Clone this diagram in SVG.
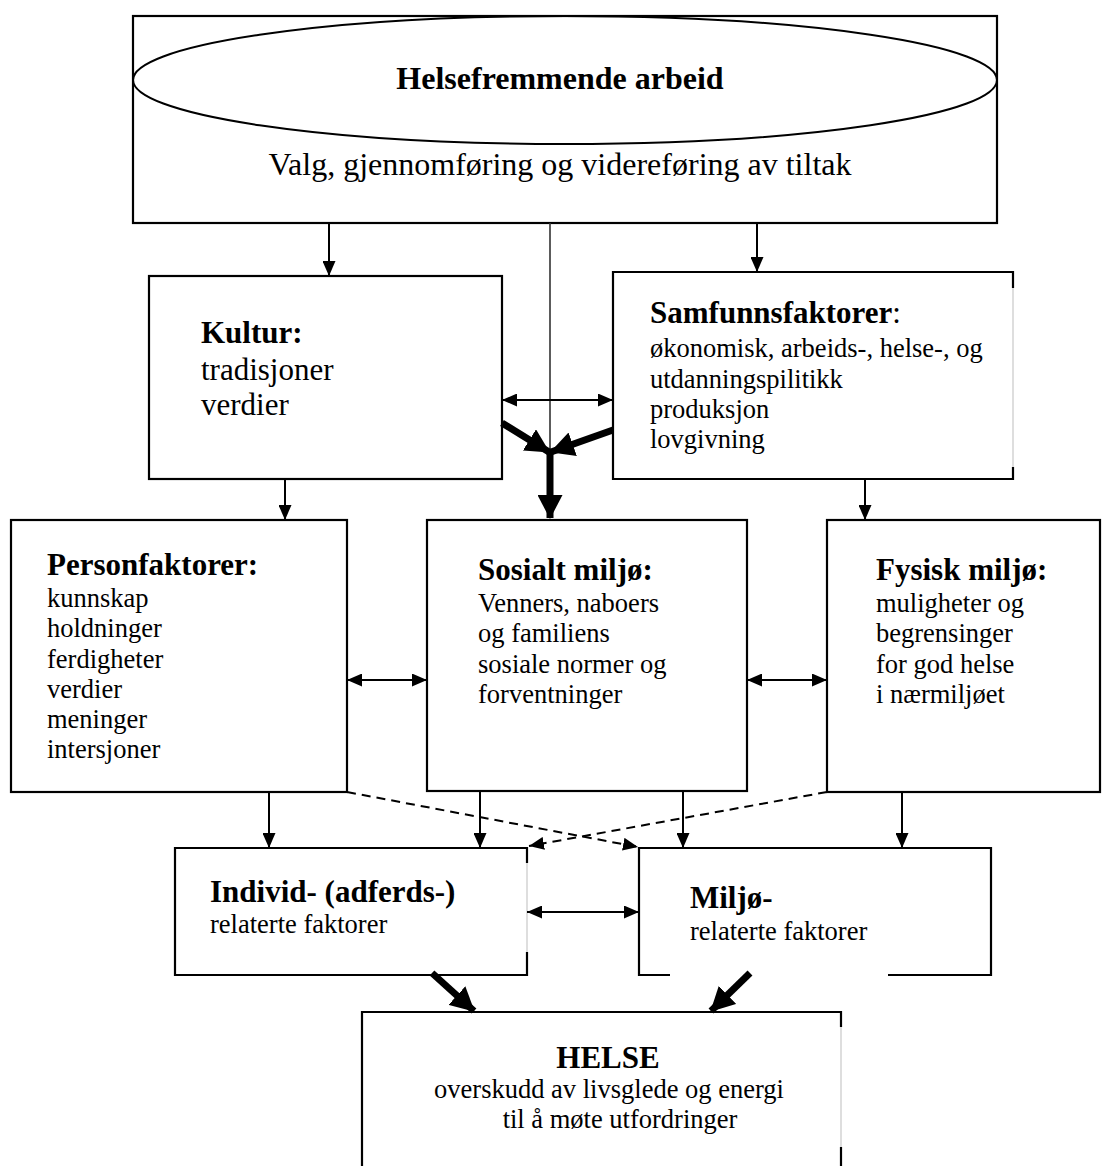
<svg xmlns="http://www.w3.org/2000/svg" width="1102" height="1166" viewBox="0 0 1102 1166">
<style>
.box{fill:none;stroke:#000;stroke-width:2.2}
.faint{fill:none;stroke:#c8c8c8;stroke-width:1.2}
.t{font-family:"Liberation Serif","Times New Roman",serif;fill:#000}
.b{font-weight:bold;font-size:31px}
.r{font-size:26.5px}
.thin{stroke:#000;stroke-width:2;fill:none;marker-end:url(#ah)}
.dbl{stroke:#000;stroke-width:2;fill:none;marker-end:url(#ah);marker-start:url(#ah)}
.dash{stroke:#000;stroke-width:2;fill:none;stroke-dasharray:9,6;marker-end:url(#ah)}
.thick{stroke:#000;stroke-width:7;fill:none;marker-end:url(#th)}
</style>
<defs>
<marker id="ah" markerUnits="userSpaceOnUse" markerWidth="15" markerHeight="13" refX="15" refY="6.5" orient="auto-start-reverse"><path d="M0,0 L15,6.5 L0,13 z" fill="#000"/></marker>
<marker id="th" markerUnits="userSpaceOnUse" markerWidth="24" markerHeight="25" refX="23" refY="12.5" orient="auto"><path d="M0,0 L24,12.5 L0,25 z" fill="#000"/></marker>
</defs>
<rect width="1102" height="1166" fill="#fff"/>

<g id="helsefremmende">
<rect class="box" x="133" y="16" width="864" height="207"/>
<ellipse cx="565" cy="80" rx="432" ry="64" fill="none" stroke="#000" stroke-width="2"/>
<text class="t" x="560" y="89" font-size="32" font-weight="bold" text-anchor="middle">Helsefremmende arbeid</text>
<text class="t" x="560" y="175" font-size="32" text-anchor="middle">Valg, gjennomføring og videreføring av tiltak</text>
</g>

<g id="kultur">
<rect class="box" x="149" y="276" width="353" height="203"/>
<text class="t b" x="201" y="343">Kultur:</text>
<text class="t" x="201" y="380" font-size="31">tradisjoner</text>
<text class="t" x="201" y="415" font-size="31">verdier</text>
</g>

<g id="samfunn">
<path class="box" d="M1013,272 L613,272 L613,479 L1013,479"/>
<path class="faint" d="M1013,288 L1013,467"/>
<path class="box" d="M1013,271 L1013,288 M1013,467 L1013,480"/>
<text class="t" x="650" y="323"><tspan class="b">Samfunnsfaktorer</tspan><tspan font-size="31">:</tspan></text>
<text class="t r" x="650" y="357">økonomisk, arbeids-, helse-, og</text>
<text class="t r" x="650" y="388">utdanningspilitikk</text>
<text class="t r" x="650" y="418">produksjon</text>
<text class="t r" x="650" y="448">lovgivning</text>
</g>

<g id="person">
<rect class="box" x="11" y="520" width="336" height="272"/>
<text class="t b" x="47" y="575">Personfaktorer:</text>
<text class="t r" x="47" y="607">kunnskap</text>
<text class="t r" x="47" y="637">holdninger</text>
<text class="t r" x="47" y="668">ferdigheter</text>
<text class="t r" x="47" y="698">verdier</text>
<text class="t r" x="47" y="728">meninger</text>
<text class="t r" x="47" y="758">intersjoner</text>
</g>

<g id="sosialt">
<rect class="box" x="427" y="520" width="320" height="271"/>
<text class="t b" x="478" y="580">Sosialt miljø:</text>
<text class="t r" x="478" y="612">Venners, naboers</text>
<text class="t r" x="478" y="642">og familiens</text>
<text class="t r" x="478" y="673">sosiale normer og</text>
<text class="t r" x="478" y="703">forventninger</text>
</g>

<g id="fysisk">
<rect class="box" x="827" y="520" width="273" height="272"/>
<text class="t b" x="876" y="580">Fysisk miljø:</text>
<text class="t r" x="876" y="612">muligheter og</text>
<text class="t r" x="876" y="642">begrensinger</text>
<text class="t r" x="876" y="673">for god helse</text>
<text class="t r" x="876" y="703">i nærmiljøet</text>
</g>

<g id="individ">
<path class="box" d="M527,848 L175,848 L175,975 L527,975"/>
<path class="faint" d="M527,863 L527,952"/>
<path class="box" d="M527,847 L527,863 M527,952 L527,976"/>
<text class="t b" x="210" y="902">Individ- (adferds-)</text>
<text class="t r" x="210" y="933">relaterte faktorer</text>
</g>

<g id="miljo">
<path class="box" d="M670,975 L639,975 L639,848 L991,848 L991,975 L888,975"/>
<text class="t b" x="690" y="908">Miljø-</text>
<text class="t r" x="690" y="940">relaterte faktorer</text>
</g>

<g id="helse">
<path class="box" d="M362,1166 L362,1012 L841,1012 L841,1027 M841,1147 L841,1166"/>
<path class="faint" d="M841,1027 L841,1147"/>
<text class="t b" x="608" y="1068" text-anchor="middle">HELSE</text>
<text class="t r" x="609" y="1098" text-anchor="middle">overskudd av livsglede og energi</text>
<text class="t r" x="620" y="1128" text-anchor="middle">til å møte utfordringer</text>
</g>

<g id="connectors">
<line class="thin" x1="329" y1="223" x2="329" y2="276"/>
<line class="thin" x1="757" y1="223" x2="757" y2="272"/>
<line x1="550" y1="223" x2="550" y2="455" stroke="#333" stroke-width="1.6"/>
<line class="dbl" x1="502" y1="400" x2="613" y2="400"/>
<line class="thick" x1="502" y1="423" x2="549" y2="452"/>
<line class="thick" x1="613" y1="430" x2="551" y2="452"/>
<line class="thick" x1="550" y1="450" x2="550" y2="518"/>
<line class="thin" x1="285" y1="479" x2="285" y2="520"/>
<line class="thin" x1="865" y1="479" x2="865" y2="520"/>
<line class="dbl" x1="347" y1="680" x2="427" y2="680"/>
<line class="dbl" x1="747" y1="680" x2="827" y2="680"/>
<line class="thin" x1="269" y1="792" x2="269" y2="848"/>
<line class="thin" x1="480" y1="792" x2="480" y2="848"/>
<line class="thin" x1="683" y1="792" x2="683" y2="848"/>
<line class="thin" x1="902" y1="792" x2="902" y2="848"/>
<line class="dash" x1="347" y1="792" x2="638" y2="847"/>
<line class="dash" x1="827" y1="792" x2="529" y2="846"/>
<line class="dbl" x1="527" y1="912" x2="639" y2="912"/>
<line class="thick" x1="432" y1="973" x2="474" y2="1011"/>
<line class="thick" x1="750" y1="973" x2="711" y2="1011"/>
</g>
</svg>
